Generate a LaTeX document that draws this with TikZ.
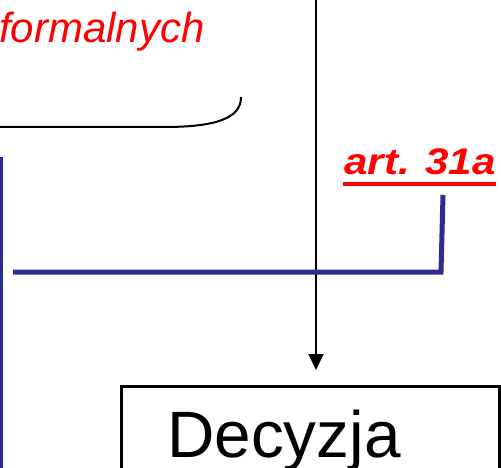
\documentclass[tikz,border=0pt]{standalone}
\usepackage{fontspec}
\setmainfont{Liberation Sans}
\usetikzlibrary{arrows.meta}
\definecolor{navy}{RGB}{43,43,145}
\definecolor{pptred}{RGB}{255,0,0}
\begin{document}
\begin{tikzpicture}[x=1pt,y=-1pt,
  redlabel/.style={anchor=base west, inner sep=0pt, text=pptred},
  bluelink/.style={draw=navy, line width=5pt},
  blackline/.style={draw=black, line width=2pt},
  decbox/.style={draw=black, line width=3pt, anchor=north west, minimum width=378pt, minimum height=120pt, inner sep=0pt}]
\useasboundingbox (0,0) rectangle (501,468);
% red texts
\node[redlabel, font=\fontsize{42}{48}\selectfont\itshape] (form) at (-1,43) {formalnych};
\node[redlabel, font=\fontsize{37}{42}\selectfont\bfseries\itshape] (art) at (344,175) {\scalebox{1.14}[1]{art. 31a}};
\draw[pptred, line width=3.5pt] ([xshift=-1pt,yshift=-9pt]art.base west) -- ([xshift=0pt,yshift=-9pt]art.base east);
% brace-like curve
\coordinate (braceL) at (-2,127);
\coordinate (braceR) at (241,97);
\draw[blackline] (braceL) -- (165,127) .. controls (228,127) and (241,113) .. (braceR);
% box
\node[decbox] (dec) at (120,385) {};
\node[anchor=base west, inner sep=0pt, font=\fontsize{65.6}{70}\selectfont] (dectext) at (167,457) {Decyzja};
% arrow
\coordinate (topin) at (316,-2);
\draw[blackline, -{Triangle[length=16pt,width=15pt]}, shorten >=15pt] (topin) -- (topin |- dec.north);
% blue lines
\coordinate (bl1) at (1,157);
\coordinate (bl2) at (1,472);
\draw[draw=navy, line width=3.5pt] (bl1) -- (bl2);
\coordinate (bh1) at (13,272);
\coordinate (bh2) at (441,272);
\coordinate (bv) at (443,195);
\draw[bluelink] (bh1) -- (bh2) -- (bv);
\end{tikzpicture}
\end{document}
